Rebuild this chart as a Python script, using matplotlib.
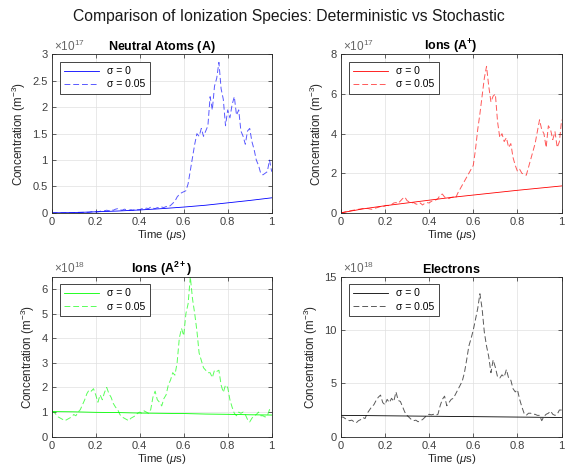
import numpy as np
import matplotlib
matplotlib.use('Agg')
import matplotlib.pyplot as plt
from matplotlib.ticker import FuncFormatter

plt.rcParams['font.family'] = ['Liberation Sans', 'DejaVu Sans']
plt.rcParams['mathtext.fontset'] = 'custom'
plt.rcParams['mathtext.rm'] = 'Liberation Sans'
plt.rcParams['mathtext.it'] = 'Liberation Sans:italic'
plt.rcParams['mathtext.bf'] = 'Liberation Sans:bold'

# time grid (us)
t = np.linspace(0, 1, 101)
t_det = np.linspace(0, 1, 11)

# Neutral atoms, x1e17
neutral_det = [0, 0.005, 0.02, 0.035, 0.055, 0.08, 0.11, 0.145, 0.19, 0.235, 0.285]
neutral_sto = [0, 0, 0, 0, 0, 0, 0, 0, 0, 0,
               0, 0, 0.01, 0.01, 0.01, 0.01, 0.01, 0.01, 0.02, 0.02,
               0.02, 0.02, 0.03, 0.04, 0.04, 0.05, 0.04, 0.06, 0.05, 0.07,
               0.08, 0.06, 0.05, 0.07, 0.06, 0.05, 0.06, 0.05, 0.07, 0.06,
               0.06, 0.08, 0.07, 0.09, 0.08, 0.11, 0.09, 0.08, 0.10, 0.09,
               0.11, 0.10, 0.12, 0.11, 0.14, 0.18, 0.22, 0.30, 0.35, 0.38,
               0.40, 0.42, 0.55, 0.80, 1.05, 1.30, 1.50, 1.45, 1.60, 1.45,
               1.55, 1.65, 2.20, 1.95, 2.40, 2.55, 2.85, 2.35, 2.15, 1.65,
               1.95, 1.80, 2.05, 2.20, 1.85, 1.95, 1.55, 1.45, 1.30, 1.55,
               1.60, 1.35, 1.20, 1.00, 0.90, 0.75, 0.72, 0.75, 0.78, 1.00,
               0.78]

# Ions A+, x1e17
ion1_det = [0, 0.2, 0.36, 0.5, 0.64, 0.78, 0.9, 1.02, 1.14, 1.25, 1.36]
ion1_sto = [0, 0.02, 0.05, 0.07, 0.10, 0.12, 0.14, 0.16, 0.18, 0.20,
            0.22, 0.21, 0.23, 0.20, 0.18, 0.22, 0.25, 0.28, 0.32, 0.30,
            0.35, 0.38, 0.36, 0.42, 0.50, 0.52, 0.48, 0.60, 0.72, 0.80,
            0.62, 0.55, 0.50, 0.52, 0.45, 0.42, 0.50, 0.40, 0.48, 0.52,
            0.50, 0.58, 0.62, 0.65, 0.72, 0.90, 0.95, 0.80, 0.75, 0.72,
            0.78, 0.80, 0.75, 1.00, 1.20, 1.40, 1.60, 1.80, 2.00, 2.20,
            2.40, 3.20, 4.20, 5.00, 5.90, 6.80, 7.40, 6.40, 5.60, 5.90,
            6.00, 4.60, 3.80, 4.00, 3.60, 3.80, 3.30, 3.50, 2.80, 2.40,
            2.10, 2.20, 2.00, 1.95, 1.90, 2.30, 2.70, 3.10, 3.50, 4.10,
            4.70, 4.20, 4.00, 3.30, 4.40, 4.20, 3.70, 4.10, 3.30, 3.60,
            4.70]

# Ions A2+, x1e18
ion2_det = [1.02, 1.01, 0.99, 0.98, 0.96, 0.95, 0.94, 0.92, 0.91, 0.89, 0.88]
ion2_sto = [0.95, 1.00, 0.90, 0.80, 0.75, 0.70, 0.65, 0.70, 0.75, 0.80,
            0.90, 0.85, 1.00, 1.10, 1.30, 1.50, 1.75, 1.90, 1.85, 1.95,
            1.70, 1.40, 1.70, 1.50, 1.80, 2.00, 1.75, 1.60, 1.35, 1.20,
            1.10, 0.90, 0.80, 0.75, 0.70, 0.65, 0.75, 0.80, 0.85, 0.95,
            1.00, 0.95, 1.05, 1.00, 0.95, 1.10, 1.60, 1.85, 1.50, 1.40,
            1.25, 1.55, 1.70, 2.10, 2.30, 2.60, 2.50, 3.00, 4.00, 4.40,
            4.10, 5.00, 5.40, 6.50, 5.60, 5.00, 4.30, 3.40, 3.10, 2.80,
            2.70, 2.60, 2.60, 2.40, 2.70, 2.65, 2.70, 2.10, 1.80, 2.10,
            2.00, 1.50, 1.20, 0.95, 0.85, 1.00, 0.95, 1.00, 0.90, 0.70,
            0.60, 0.75, 0.85, 0.90, 1.00, 0.85, 0.85, 0.80, 0.85, 1.10,
            1.00]

# Electrons, x1e18
elec_det = [2.0, 1.98, 1.96, 1.94, 1.92, 1.9, 1.88, 1.86, 1.84, 1.82, 1.8]
elec_sto = [1.80, 1.85, 1.70, 1.60, 1.50, 1.55, 1.40, 1.30, 1.50, 1.60,
            1.80, 1.70, 2.20, 2.50, 2.80, 3.00, 3.40, 3.70, 3.90, 3.20,
            3.00, 3.50, 3.20, 3.60, 3.30, 4.20, 3.40, 3.30, 2.80, 2.30,
            2.00, 1.80, 1.60, 1.50, 1.55, 1.40, 1.50, 1.60, 1.80, 2.00,
            2.10, 2.05, 2.10, 2.00, 2.10, 2.90, 3.50, 3.80, 2.90, 3.20,
            3.50, 3.60, 4.00, 4.40, 4.80, 5.20, 6.00, 7.20, 8.50, 9.20,
            10.0, 11.0, 12.0, 13.4, 12.0, 9.80, 8.50, 7.50, 6.00, 7.20,
            6.50, 5.60, 5.50, 5.80, 5.60, 6.30, 5.50, 5.30, 4.50, 4.20,
            4.40, 3.50, 2.80, 2.20, 2.00, 2.20, 2.20, 2.10, 2.10, 2.00,
            2.00, 1.50, 1.90, 2.10, 2.20, 2.40, 2.10, 2.00, 2.10, 2.50,
            2.50]

panels = [
    (r'$\mathbf{Neutral\ Atoms\ (A)}$', neutral_det, neutral_sto, (0, 0, 1), 17, (0, 3), np.arange(0, 3.01, 0.5)),
    (r'$\mathbf{Ions\ (A^{+})}$', ion1_det, ion1_sto, (1, 0, 0), 17, (0, 8), np.arange(0, 8.1, 2)),
    (r'$\mathbf{Ions\ (A^{2+})}$', ion2_det, ion2_sto, (0, 1, 0), 18, (0, 6.5), np.arange(0, 6.1, 1)),
    (r'$\mathbf{Electrons}$', elec_det, elec_sto, (0, 0, 0), 18, (0, 15), np.arange(0, 15.1, 5)),
]

positions = [
    [0.0912, 0.549, 0.388, 0.3356],
    [0.601, 0.549, 0.3895, 0.3356],
    [0.0912, 0.0748, 0.388, 0.339],
    [0.601, 0.0748, 0.3895, 0.339],
]

fig = plt.figure(figsize=(5.67, 4.72), dpi=100)
fig.text(0.51, 0.966, 'Comparison of Ionization Species: Deterministic vs Stochastic',
         ha='center', va='center', fontsize=11.3, color='0.1')

fmt = FuncFormatter(lambda v, p: '%g' % round(v, 6))
gray = (0.15, 0.15, 0.15)

for (title, det, sto, col, expo, ylim, yticks), pos in zip(panels, positions):
    ax = fig.add_axes(pos)
    ax.plot(t_det, det, color=col, lw=0.6, label='σ = 0')
    ax.plot(t, sto, color=col, lw=0.7, ls=(0, (6, 3)), alpha=0.65, label='σ = 0.05')
    ax.set_xlim(0, 1)
    ax.set_ylim(*ylim)
    ax.set_xticks(np.arange(0, 1.01, 0.2))
    ax.set_yticks(yticks)
    ax.xaxis.set_major_formatter(fmt)
    ax.yaxis.set_major_formatter(fmt)
    ax.grid(True, color='0.88', lw=0.5)
    ax.set_axisbelow(True)
    for s in ax.spines.values():
        s.set_color(gray)
        s.set_linewidth(0.6)
    ax.tick_params(direction='in', length=3, width=0.5, color=gray, labelcolor='0.25',
                   labelsize=8, top=True, right=True, pad=3)
    ax.set_title(title, fontsize=9, pad=3)
    ax.set_xlabel(r'Time ($\mu$s)', fontsize=8.2, color=gray, labelpad=1)
    ax.set_ylabel(r'Concentration (m$^{-3}$)', fontsize=8.4, color=gray, labelpad=3)
    ax.text(0.01, 1.005, r'$\times$10$^{%d}$' % expo, transform=ax.transAxes,
            ha='left', va='bottom', fontsize=8.5, color='0.4')
    leg = ax.legend(loc='upper left', fontsize=7.5, handlelength=3.3, fancybox=False,
                    framealpha=1, edgecolor=gray, borderpad=0.4, labelspacing=0.3,
                    bbox_to_anchor=(0.015, 0.985))
    leg.get_frame().set_linewidth(0.6)

fig.savefig('out.png', dpi=100)
